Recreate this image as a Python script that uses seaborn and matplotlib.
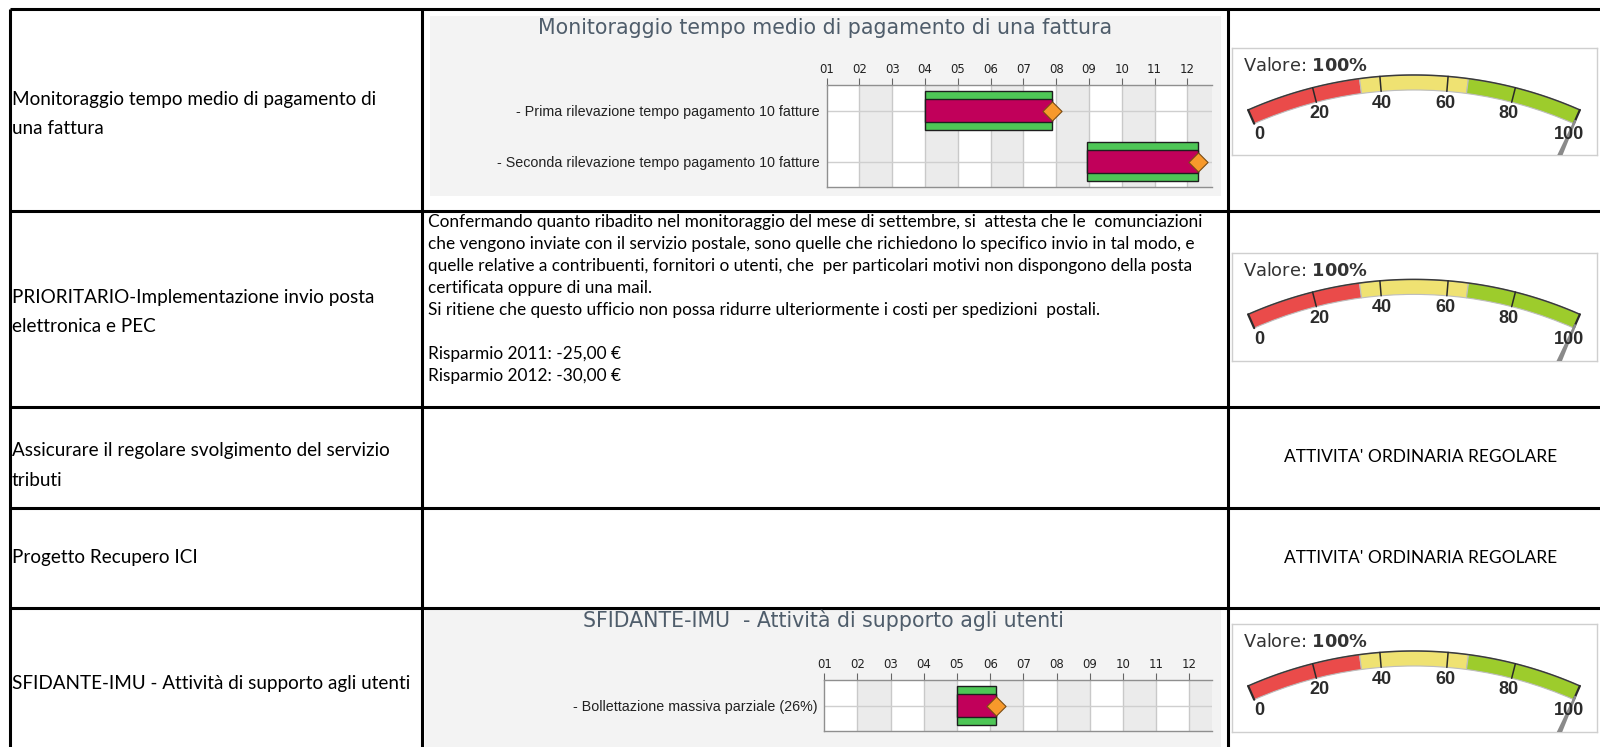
import matplotlib
matplotlib.use("Agg")
import matplotlib.pyplot as plt
import seaborn as sns
import numpy as np
from matplotlib.patches import Wedge, Rectangle, Polygon

# --- data -------------------------------------------------------------
months = ["01", "02", "03", "04", "05", "06", "07", "08", "09", "10", "11", "12"]

row_titles = [
    "Monitoraggio tempo medio di pagamento di\nuna fattura",
    "PRIORITARIO-Implementazione invio posta\nelettronica e PEC",
    "Assicurare il regolare svolgimento del servizio\ntributi",
    "Progetto Recupero ICI",
    "SFIDANTE-IMU - Attività di supporto agli utenti",
]

gantt1_title = "Monitoraggio tempo medio di pagamento di una fattura"
gantt1_tasks = ["- Prima rilevazione tempo pagamento 10 fatture",
                "- Seconda rilevazione tempo pagamento 10 fatture"]
gantt1_start = [3.0, 7.93]   # months from 01 Jan
gantt1_end = [6.88, 11.33]
gantt1_done = [1.0, 1.0]

gantt2_title = "SFIDANTE-IMU  - Attività di supporto agli utenti"
gantt2_tasks = ["- Bollettazione massiva parziale (26%)"]
gantt2_start = [4.0]
gantt2_end = [5.18]
gantt2_done = [1.0]

note_lines = [
    "Confermando quanto ribadito nel monitoraggio del mese di settembre, si  attesta che le  comunciazioni",
    "che vengono inviate con il servizio postale, sono quelle che richiedono lo specifico invio in tal modo, e",
    "quelle relative a contribuenti, fornitori o utenti, che  per particolari motivi non dispongono della posta",
    "certificata oppure di una mail.",
    "Si ritiene che questo ufficio non possa ridurre ulteriormente i costi per spedizioni  postali.",
    "",
    "Risparmio 2011: -25,00 €",
    "Risparmio 2012: -30,00 €",
]
status_text = "ATTIVITA' ORDINARIA REGOLARE"

gauge_bands = [0, 34, 66, 100]
gauge_colors = ["#ea4b4a", "#efe272", "#9dcc2c"]
gauge_ticks = [0, 20, 40, 60, 80, 100]
gauge_values = [100, 100, 100]

# --- style ------------------------------------------------------------
sns.set_theme(style="white")
plt.rcParams['font.family'] = ['Lato', 'DejaVu Sans']
plt.rcParams['mathtext.fontset'] = 'dejavusans'

W, H = 1600, 747
fig = plt.figure(figsize=(16, 7.47), dpi=100)
fig.patch.set_facecolor("white")


def px_axes(x0, y0, x1, y1, z=1):
    # pixel box, origin top-left
    return fig.add_axes([x0 / W, 1 - y1 / H, (x1 - x0) / W, (y1 - y0) / H], zorder=z)


base = px_axes(0, 0, W, H, z=0)
base.set_xlim(0, W)
base.set_ylim(H, 0)
base.axis("off")

# table grid
col_x = [9.5, 422, 1228]
row_y = [9, 211, 407, 508, 608]
base.vlines(col_x, 9, H, color="black", lw=2.2)
base.hlines(row_y, 9.5, W, color="black", lw=2.2)

# first column
row_bottom = row_y[1:] + [756]
text_shift = [4, 3, 8, 0, 2]
for i, txt in enumerate(row_titles):
    yc = (row_y[i] + row_bottom[i]) / 2 + text_shift[i]
    base.text(12, yc, txt, ha="left", va="center", fontsize=13.6,
              color="black", linespacing=1.9)

# notes in second column, row 2
for i, line in enumerate(note_lines):
    base.text(428, 222.5 + i * 22, line, ha="left", va="center",
              fontsize=12.4, color="black")

for r in (2, 3):
    base.text(1421, (row_y[r] + row_bottom[r]) / 2, status_text,
              ha="center", va="center", fontsize=12.5, color="black")


# --- gantt panels -----------------------------------------------------
def gantt(panel, plot, x_right, title, title_y, tasks, start, end, done):
    px0, py0, px1, py1 = panel
    base.add_patch(Rectangle((px0, py0), px1 - px0, py1 - py0,
                             facecolor="#f3f3f3", edgecolor="none", zorder=1))
    base.text((px0 + px1) / 2, title_y, title, ha="center", va="center",
              fontsize=14.8, color="#4f5d6b", family="DejaVu Sans", zorder=2)

    ax = px_axes(*plot, z=2)
    n = len(tasks)
    ypos = np.arange(n)
    ax.set_facecolor("white")
    for m in range(1, 12, 2):
        ax.axvspan(m, m + 1, color="#ebebeb", lw=0, zorder=0)
    ax.vlines(range(1, 12), -1, n, color="#c9c9c9", lw=1, zorder=1)
    ax.hlines(ypos, 0, 12, color="#cfcfcf", lw=1, zorder=1)

    dur = np.array(end) - np.array(start)
    ax.barh(ypos, dur, left=start, height=0.77, color="#4ec656",
            edgecolor="#1e1e1e", lw=1, zorder=3)
    ax.barh(ypos, dur * np.array(done), left=start, height=0.45,
            color="#c1005a", edgecolor="#1e1e1e", lw=1, zorder=4)
    sns.scatterplot(x=end, y=ypos, marker="D", s=95, color="#f7992b",
                    edgecolor="#7a4c14", linewidth=0.8, ax=ax, zorder=5,
                    clip_on=False, legend=False)

    ax.set_xlim(0, x_right)
    ax.set_ylim(n - 0.5, -0.5)
    ax.xaxis.tick_top()
    ax.set_xticks(range(12))
    ax.set_xticklabels(months, family="DejaVu Sans", fontsize=8.5, color="#222")
    ax.set_yticks(ypos)
    ax.set_yticklabels(tasks, family="Liberation Sans", fontsize=10.3, color="#222")
    ax.tick_params(axis="x", top=True, bottom=False, length=5, width=0.8,
                   color="#666", pad=1.5)
    ax.tick_params(axis="y", left=False, length=0, pad=5)
    ax.set_xlabel("")
    ax.set_ylabel("")
    for s in ax.spines.values():
        s.set_color("#8f8f8f")
        s.set_linewidth(1)
    ax.spines["right"].set_visible(False)
    return ax


gantt((430, 16, 1221, 196), (826.7, 85, 1212, 187), 11.75, gantt1_title, 28,
      gantt1_tasks, gantt1_start, gantt1_end, gantt1_done)
gantt((425, 610, 1221, 747), (824.3, 680, 1212, 731), 11.68, gantt2_title, 620,
      gantt2_tasks, gantt2_start, gantt2_end, gantt2_done)


# --- gauges -----------------------------------------------------------
def gauge(box, value):
    bx0, by0, bx1, by1 = box
    ax = px_axes(bx0, by0, bx1, by1, z=2)
    ax.set_xlim(bx0, bx1)
    ax.set_ylim(by1, by0)
    ax.set_xticks([])
    ax.set_yticks([])
    ax.set_facecolor("white")
    for s in ax.spines.values():
        s.set_color("#cfcfcf")
        s.set_linewidth(1)

    cx, cy = 1414, by0 + 437.7
    r_out, band = 411, 15
    th = 23.8

    def ang(v):
        return (v - 50) / 50 * th - 90

    def pos(v, r):
        phi = np.radians((v - 50) / 50 * th)
        return cx + r * np.sin(phi), cy - r * np.cos(phi)

    for lo, hi, c in zip(gauge_bands[:-1], gauge_bands[1:], gauge_colors):
        ax.add_patch(Wedge((cx, cy), r_out, ang(lo), ang(hi), width=band,
                           facecolor=c, edgecolor="#bdbdbd", lw=0.8, zorder=2))
    vv = np.linspace(0, 100, 120)
    ox, oy = pos(vv, r_out)
    ax.plot(ox, oy, color="#3a3a3a", lw=1.1, zorder=3)
    for t in gauge_ticks:
        (x0, y0), (x1, y1) = pos(t, r_out - band), pos(t, r_out)
        ax.plot([x0, x1], [y0, y1], color="#2a2a2a",
                lw=1.6 if t in (0, 100) else 1.1, zorder=3)
        lx, ly = pos(t, 384)
        ax.text(lx, ly, str(t), ha="center", va="center", fontsize=13,
                fontweight="bold", family="Liberation Sans", color="#2b2b2b",
                zorder=5)

    # needle
    phi = np.radians((value - 50) / 50 * th)
    ux, uy = np.sin(phi), -np.cos(phi)
    nx, ny = -uy, ux
    tip, root = 400, 320
    pts = [(cx + tip * ux + 1.2 * nx, cy + tip * uy + 1.2 * ny),
           (cx + tip * ux - 1.2 * nx, cy + tip * uy - 1.2 * ny),
           (cx + root * ux - 3.8 * nx, cy + root * uy - 3.8 * ny),
           (cx + root * ux + 3.8 * nx, cy + root * uy + 3.8 * ny)]
    ax.add_patch(Polygon(pts, closed=True, facecolor="#8a8a8a",
                         edgecolor="none", zorder=4))

    ax.text(bx0 + 11, by0 + 18, "Valore: $\\mathbf{%d\\%%}$" % value,
            ha="left", va="center", fontsize=12.8, family="DejaVu Sans",
            color="#333333", zorder=5)


gauge((1232, 48.3, 1597, 155), gauge_values[0])
gauge((1232, 252.7, 1597, 361), gauge_values[1])
gauge((1232, 624.3, 1597, 732.3), gauge_values[2])

fig.savefig("out.png", dpi=100)
